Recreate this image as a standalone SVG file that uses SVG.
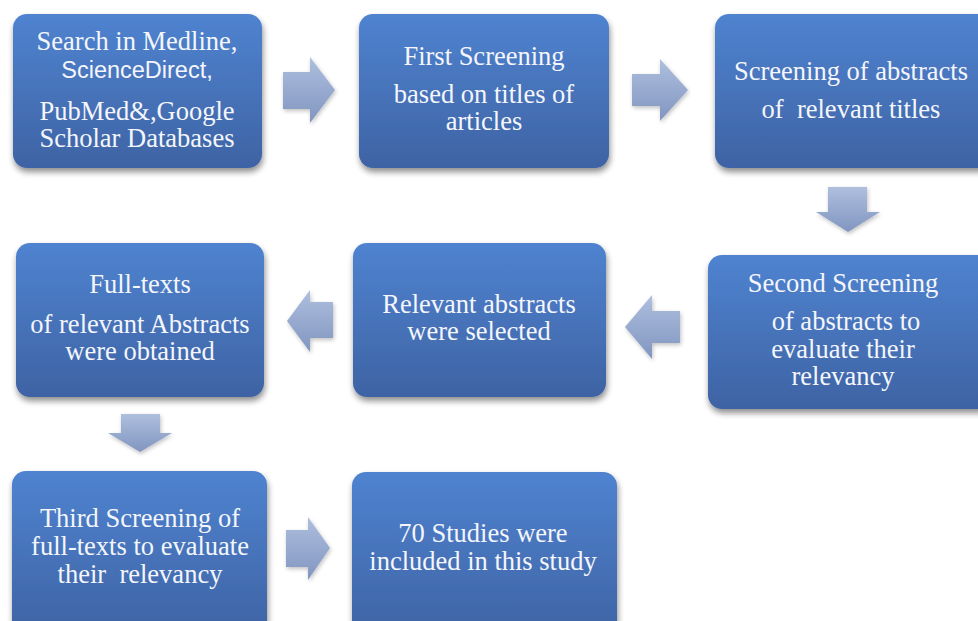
<svg xmlns="http://www.w3.org/2000/svg" width="978" height="621" viewBox="0 0 978 621">
<defs>
<linearGradient id="boxg" x1="0" y1="0" x2="0" y2="1">
<stop offset="0" stop-color="#4f83d0"/>
<stop offset="1" stop-color="#3e63a4"/>
</linearGradient>
<linearGradient id="arrg" x1="0" y1="0" x2="0" y2="1">
<stop offset="0" stop-color="#aebfde"/>
<stop offset="1" stop-color="#8195c0"/>
</linearGradient>
<filter id="sh" x="-10%" y="-10%" width="125%" height="130%">
<feGaussianBlur in="SourceAlpha" stdDeviation="3"/>
<feOffset dx="1" dy="4" result="b"/>
<feComponentTransfer><feFuncA type="linear" slope="0.45"/></feComponentTransfer>
<feMerge><feMergeNode/><feMergeNode in="SourceGraphic"/></feMerge>
</filter>
<filter id="ash" x="-20%" y="-20%" width="150%" height="150%">
<feGaussianBlur in="SourceAlpha" stdDeviation="2"/>
<feOffset dx="1" dy="2"/>
<feComponentTransfer><feFuncA type="linear" slope="0.25"/></feComponentTransfer>
<feMerge><feMergeNode/><feMergeNode in="SourceGraphic"/></feMerge>
</filter>
</defs>
<style>
.box{fill:url(#boxg);filter:url(#sh)}
.t{font-family:"Liberation Serif","Times New Roman",serif;font-size:26.5px;fill:#f4f6fb;text-anchor:middle}
.s{font-family:"Liberation Sans",Arial,sans-serif;font-size:23.5px}
.arr{fill:url(#arrg);filter:url(#ash)}
</style>
<rect width="978" height="621" fill="#ffffff"/>
<g id="connectors">
<polygon class="arr" points="283,72 310,72 310,57 335,90 310,123 310,109 283,109"/>
<polygon class="arr" points="632,74 660,74 660,59 688,90 660,121 660,106 632,106"/>
<polygon class="arr" points="828,187 867,187 867,212 880,212 848,232 816,212 828,212"/>
<polygon class="arr" points="680,311 652,311 652,295 625,327 652,359 652,343 680,343"/>
<polygon class="arr" points="333,302 310,302 310,290 287,321 310,352 310,338 333,338"/>
<polygon class="arr" points="121,414 160,414 160,433 172,433 140,452 108,433 121,433"/>
<polygon class="arr" points="286,530 308,530 308,517 330,548 308,580 308,567 286,567"/>
</g>
<g id="n1">
<rect class="box" x="13" y="14" width="249" height="154" rx="14"/>
<text class="t" x="137" y="50">Search in Medline,</text>
<text class="t s" x="137" y="78">ScienceDirect,</text>
<text class="t" x="137" y="120">PubMed&amp;,Google</text>
<text class="t" x="137" y="147">Scholar Databases</text>
</g>
<g id="n2">
<rect class="box" x="359" y="14" width="250" height="154" rx="14"/>
<text class="t" x="484" y="65">First Screening</text>
<text class="t" x="484" y="103">based on titles of</text>
<text class="t" x="484" y="130">articles</text>
</g>
<g id="n3">
<rect class="box" x="715" y="14" width="280" height="154" rx="14"/>
<text class="t" x="851" y="80">Screening of abstracts</text>
<text class="t" x="851" y="118" xml:space="preserve">of  relevant titles</text>
</g>
<g id="n4">
<rect class="box" x="708" y="255" width="285" height="154" rx="14"/>
<text class="t" x="843" y="292">Second Screening</text>
<text class="t" x="846" y="330">of abstracts to</text>
<text class="t" x="843" y="358">evaluate their</text>
<text class="t" x="843" y="385">relevancy</text>
</g>
<g id="n5">
<rect class="box" x="353" y="243" width="253" height="154" rx="14"/>
<text class="t" x="479" y="313">Relevant abstracts</text>
<text class="t" x="479" y="340">were selected</text>
</g>
<g id="n6">
<rect class="box" x="16" y="243" width="248" height="154" rx="14"/>
<text class="t" x="140" y="293">Full-texts</text>
<text class="t" x="140" y="333">of relevant Abstracts</text>
<text class="t" x="140" y="360">were obtained</text>
</g>
<g id="n7">
<rect class="box" x="12" y="471" width="255" height="165" rx="14"/>
<text class="t" x="140" y="527">Third Screening of</text>
<text class="t" x="140" y="555">full-texts to evaluate</text>
<text class="t" x="140" y="583" xml:space="preserve">their  relevancy</text>
</g>
<g id="n8">
<rect class="box" x="352" y="472" width="265" height="165" rx="14"/>
<text class="t" x="483" y="542">70 Studies were</text>
<text class="t" x="483" y="570">included in this study</text>
</g>
</svg>
